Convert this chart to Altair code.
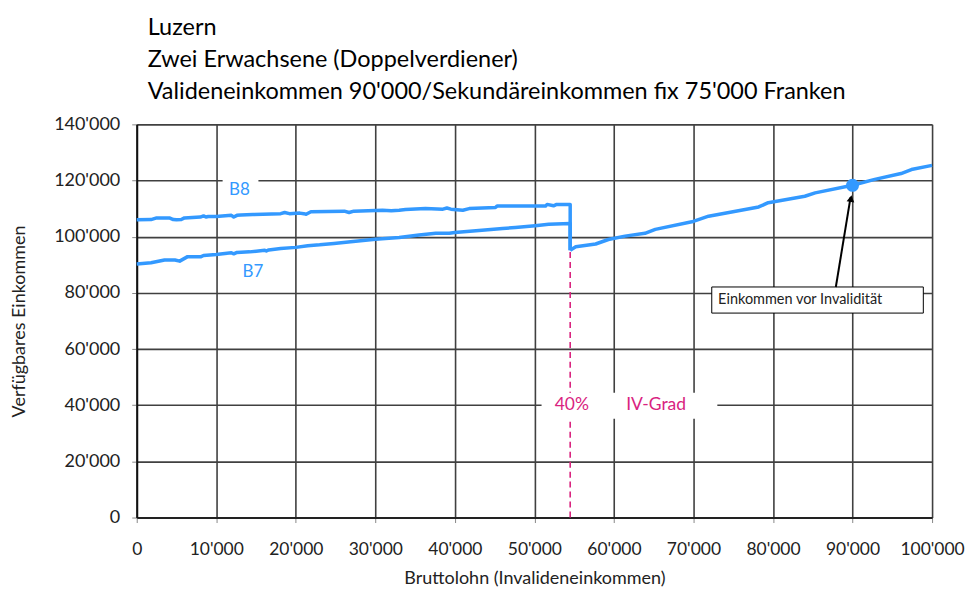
import altair as alt
import pandas as pd

# ---- data ----
b8_x = [0, 1800, 2500, 4100, 4600, 5000, 5600, 6000, 8000, 8400, 8700, 9000, 10000, 11900, 12200,
        12600, 13100, 14600, 18100, 18600, 19200, 20500, 21000, 21300, 21900, 26100, 26700, 27300,
        30900, 32000, 33000, 33800, 36300, 38500, 39000, 39500, 41000, 41800, 45100, 45300, 51400,
        51600, 52400, 52800, 54500, 54500]
b8_y = [106000, 106100, 106700, 106700, 106100, 106000, 106100, 106700, 107000, 107400, 107000,
        107200, 107200, 107600, 107000, 107600, 107700, 107900, 108200, 108600, 108200, 108400,
        108200, 108000, 108900, 109100, 108600, 109100, 109400, 109200, 109400, 109700, 110000,
        109800, 110200, 109800, 109400, 110000, 110400, 110900, 110900, 111500, 111000, 111500,
        111500, 95200]

b7_x = [0, 1800, 3500, 4800, 5400, 6400, 8100, 8400, 10000, 11900, 12200, 12600, 14200, 16100,
        16300, 16600, 18100, 20000, 21500, 23000, 24800, 26900, 30000, 33000, 35500, 37600, 39300,
        40000, 43400, 46000, 47600, 50100, 51800, 54500, 54500]
b7_y = [90300, 90700, 91700, 91700, 91300, 92900, 92900, 93300, 93700, 94300, 93900, 94400, 94600,
        95200, 94900, 95300, 95800, 96200, 96800, 97100, 97600, 98200, 99100, 99700, 100600, 101200,
        101200, 101500, 102300, 102900, 103300, 103900, 104400, 104700, 95200]

tail_x = [54500, 55200, 57700, 59300, 61400, 63900, 65200, 69800, 71900, 78200, 79400, 84000, 85300,
          90000, 92800, 96100, 97400, 100000]
tail_y = [95200, 96400, 97400, 99000, 100200, 101200, 102600, 105300, 107300, 110600, 112100,
          114400, 115600, 118300, 120400, 122500, 123900, 125400]

iv_x = 54500          # 40% IV-Grad
iv_top = 95200
valid_x = 90000       # Einkommen vor Invalidität
valid_y = 118300

title_lines = ["Luzern", "Zwei Erwachsene (Doppelverdiener)",
               "Valideneinkommen 90'000/Sekundäreinkommen fix 75'000 Franken"]

BLUE = "#3399FF"
MAGENTA = "#D9237F"
FONT = "Lato"
TXT = "#222222"

rows = []
for s, xs, ys in [("B8", b8_x, b8_y), ("B7", b7_x, b7_y), ("tail", tail_x, tail_y)]:
    for i, (xv, yv) in enumerate(zip(xs, ys)):
        rows.append({"series": s, "x": xv, "y": yv, "o": i})
lines_df = pd.DataFrame(rows)

xscale = alt.Scale(domain=[0, 100000], nice=False)
yscale = alt.Scale(domain=[0, 140000], nice=False)
fmt = "replace(format(datum.value, ','), ',', \"'\")"

xenc = alt.X("x:Q", scale=xscale, title="Bruttolohn (Invalideneinkommen)",
             axis=alt.Axis(values=list(range(0, 100001, 10000)), labelExpr=fmt,
                           labelOverlap=False, labelFlush=False,
                           labelFontSize=17.5, labelFont=FONT, labelPadding=18,
                           titleFontSize=18, titleFont=FONT, titleFontWeight="normal",
                           titlePadding=12, labelColor=TXT, titleColor=TXT,
                           grid=True, gridColor="#404040", gridWidth=1.6,
                           tickSize=5, tickColor="#888", domainColor="#222", domainWidth=2))
yenc = alt.Y("y:Q", scale=yscale, title="Verfügbares Einkommen",
             axis=alt.Axis(values=list(range(0, 140001, 20000)), labelExpr=fmt,
                           labelOverlap=False, labelFlush=False,
                           labelFontSize=18, labelFont=FONT, labelPadding=12,
                           titleFontSize=18, titleFont=FONT, titleFontWeight="normal",
                           titlePadding=25, labelColor=TXT, titleColor=TXT,
                           grid=True, gridColor="#404040", gridWidth=1.6,
                           tickSize=5, tickColor="#888", domainColor="#111", domainWidth=2))

base = alt.Chart(lines_df)

lines = base.mark_line(color=BLUE, strokeWidth=3.5, strokeJoin="round").encode(
    x=xenc, y=yenc, detail="series:N", order="o:Q")

rule_df = pd.DataFrame({"x": [iv_x], "y": [0], "y2": [iv_top]})
iv_rule = alt.Chart(rule_df).mark_rule(color=MAGENTA, strokeDash=[6, 4], strokeWidth=1.6).encode(
    x="x:Q", y="y:Q", y2="y2:Q")

boxes_df = pd.DataFrame({"x": [50900, 10800], "x2": [73000, 15300],
                         "y": [35200, 112300], "y2": [44400, 120800]})
white_boxes = alt.Chart(boxes_df).mark_rect(fill="white").encode(
    x="x:Q", x2="x2:Q", y="y:Q", y2="y2:Q")

iv_text_df = pd.DataFrame({"x": [54700, 65300], "y": [40000, 40000], "t": ["40%", "IV-Grad"]})
iv_text = alt.Chart(iv_text_df).mark_text(color=MAGENTA, font=FONT, fontSize=17.5,
                                          align="center", baseline="middle").encode(
    x="x:Q", y="y:Q", text="t:N")

lab_df = pd.DataFrame({"x": [12900, 14600], "y": [116600, 87400], "t": ["B8", "B7"]})
labels = alt.Chart(lab_df).mark_text(color=BLUE, font=FONT, fontSize=17,
                                     align="center", baseline="middle").encode(
    x="x:Q", y="y:Q", text="t:N")

dot_df = pd.DataFrame({"x": [valid_x], "y": [valid_y]})
dot = alt.Chart(dot_df).mark_point(filled=True, color=BLUE, size=170, opacity=1).encode(
    x="x:Q", y="y:Q")

ann_box_df = pd.DataFrame({"x": [72300], "x2": [98900], "y": [72800], "y2": [82100]})
ann_box = alt.Chart(ann_box_df).mark_rect(fill="white", stroke="black", strokeWidth=1).encode(
    x="x:Q", x2="x2:Q", y="y:Q", y2="y2:Q")
ann_text_df = pd.DataFrame({"x": [73100], "y": [77300], "t": ["Einkommen vor Invalidität"]})
ann_text = alt.Chart(ann_text_df).mark_text(color=TXT, font=FONT, fontSize=14.5,
                                            align="left", baseline="middle").encode(
    x="x:Q", y="y:Q", text="t:N")

arrow_df = pd.DataFrame({"x": [87900], "y": [82100], "x2": [89750], "y2": [114000]})
arrow_line = alt.Chart(arrow_df).mark_rule(color="black", strokeWidth=2).encode(
    x="x:Q", y="y:Q", x2="x2:Q", y2="y2:Q")
head_df = pd.DataFrame({"x": [89800], "y": [113600]})
arrow_head = alt.Chart(head_df).mark_point(shape="triangle-up", filled=True, color="black",
                                           size=60, angle=9, opacity=1).encode(x="x:Q", y="y:Q")

chart = alt.layer(
    lines.mark_line(opacity=0).encode(x=xenc, y=yenc, detail="series:N", order="o:Q"),
    iv_rule, white_boxes, iv_text, labels, lines, dot, ann_box, ann_text, arrow_line, arrow_head,
).properties(
    width=797, height=394,
    padding={"left": 129, "top": 116, "right": 34, "bottom": 70},
    autosize=alt.AutoSizeParams(type="none"),
    title=alt.Title(text=title_lines, anchor="start", frame="group", fontSize=23.5, font=FONT,
                    fontWeight="normal", lineHeight=32, dx=11, offset=12, color="black"),
).configure_view(stroke=None).configure_axis(labelFontWeight="normal")

chart.save("out.html", embed_options={"renderer": "svg", "actions": False})
